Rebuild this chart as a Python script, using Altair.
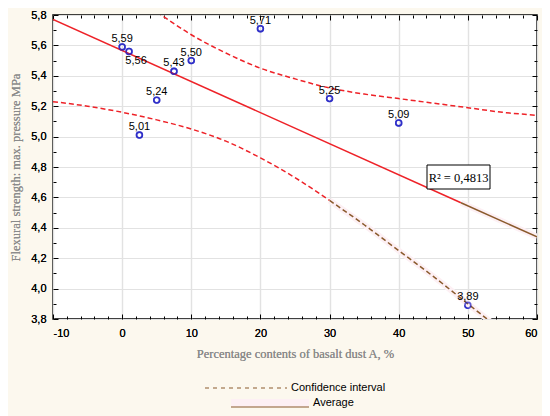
import altair as alt
import pandas as pd

# ---- data ----
pct = [0, 1, 2.5, 5, 7.5, 10, 20, 30, 40, 50]
strength = [5.59, 5.56, 5.01, 5.24, 5.43, 5.50, 5.71, 5.25, 5.09, 3.89]

ci_x = [-10, -5, 0, 5, 10, 15, 20, 25, 30, 35, 40, 45, 50, 55, 60]
ci_upper = [6.31, 6.14, 5.97, 5.82, 5.67, 5.55, 5.45, 5.38, 5.32, 5.28, 5.25, 5.22, 5.19, 5.16, 5.14]
ci_lower = [5.23, 5.20, 5.16, 5.11, 5.05, 4.97, 4.86, 4.73, 4.58, 4.42, 4.25, 4.08, 3.90, 3.72, 3.54]

x_major = [-10, 0, 10, 20, 30, 40, 50, 60]
x_ticks = [-10, -8, -6, -4, -2, 0, 2, 4, 6, 8, 10, 12, 14, 16, 18, 20, 22, 24, 26, 28, 30,
           32, 34, 36, 38, 40, 42, 44, 46, 48, 50, 52, 54, 56, 58, 60]
y_major = [3.8, 4.0, 4.2, 4.4, 4.6, 4.8, 5.0, 5.2, 5.4, 5.6, 5.8]
y_ticks = [3.8, 3.9, 4.0, 4.1, 4.2, 4.3, 4.4, 4.5, 4.6, 4.7, 4.8, 4.9, 5.0, 5.1, 5.2,
           5.3, 5.4, 5.5, 5.6, 5.7, 5.8]

R2_TEXT = "R² = 0,4813"
X_TITLE = "Percentage contents of basalt dust A, %"
Y_TITLE = "Flexural strength: max. pressure MPa"
LEG_CI = "Confidence interval"
LEG_AVG = "Average"

# ---- styling ----
W, H = 484, 304
RED = "#ee2228"
BROWN = "#8a5a2c"
BLUE = "#1c1cc4"
PINK = "#fdf0f4"
SANS = "Liberation Sans"
SERIF = "Liberation Serif"

xs = alt.Scale(domain=[-10, 60], nice=False, zero=False)
ys = alt.Scale(domain=[3.8, 5.8], nice=False, zero=False)

pts = pd.DataFrame({"pct": pct, "strength": strength})
ci = pd.DataFrame({"pct": ci_x, "upper": ci_upper, "lower": ci_lower})
one = pd.DataFrame({"a": [0]})

x_label_expr = "datum.value < 0 ? '-' + abs(datum.value) : '' + datum.value"
y_label_expr = "replace(format(datum.value, '.1f'), '.', ',')"

ax_x_main = alt.Axis(
    orient="bottom", values=x_major, labelExpr=x_label_expr, grid=True,
    gridColor="#e2e2e2", gridWidth=1.2, ticks=False, tickSize=0, domain=False,
    labelFont=SANS, labelFontSize=11, labelColor="black", labelPadding=8,
    title=X_TITLE, titleFont=SERIF, titleFontSize=12.5, titleFontWeight="normal",
    titleColor="#8a8a8a", titlePadding=9,
)
ax_y_main = alt.Axis(
    orient="left", values=y_major, labelExpr=y_label_expr, grid=True,
    gridColor="#e2e2e2", gridWidth=1.2, ticks=False, tickSize=0, domain=False,
    labelFont=SANS, labelFontSize=11, labelColor="black", labelPadding=7,
    title=Y_TITLE, titleFont=SERIF, titleFontSize=12.5, titleFontWeight="normal",
    titleColor="#8a8a8a", titlePadding=8,
)

x_tick_size = {"condition": {"test": "datum.value % 10 == 0", "value": 5}, "value": 3}
y_tick_size = {"condition": {"test": "round(datum.value * 10) % 2 == 0", "value": 5}, "value": 3}


def tick_axis(orient, values, offset, size):
    return alt.Axis(orient=orient, values=values, offset=offset, labels=False,
                    domain=False, grid=False, ticks=True, tickSize=size,
                    tickColor="black", tickWidth=1, title=None)


# confidence interval: upper (red dashed) -- carries top/right inward ticks
ci_upper_line = alt.Chart(ci).mark_line(
    color=RED, strokeDash=[5, 3], strokeWidth=1.5, clip=True, interpolate="monotone"
).encode(
    x=alt.X("pct:Q", scale=xs, axis=tick_axis("bottom", x_ticks, -H, x_tick_size)),
    y=alt.Y("upper:Q", scale=ys, axis=tick_axis("left", y_ticks, -W, y_tick_size)),
)

# confidence interval lower: red part then brown part -- carries bottom/left inward ticks
ci_lower_red = alt.Chart(ci).transform_filter("datum.pct <= 30").mark_line(
    color=RED, strokeDash=[5, 3], strokeWidth=1.5, clip=True, interpolate="monotone"
).encode(
    x=alt.X("pct:Q", scale=xs, axis=tick_axis("top", x_ticks, -H, x_tick_size)),
    y=alt.Y("lower:Q", scale=ys, axis=tick_axis("right", y_ticks, -W, y_tick_size)),
)
ci_lower_pink = alt.Chart(ci).transform_filter("datum.pct >= 30").mark_line(
    color=PINK, strokeWidth=6, clip=True, interpolate="monotone"
).encode(
    x=alt.X("pct:Q", scale=xs, axis=None),
    y=alt.Y("lower:Q", scale=ys, axis=None),
)
ci_lower_brown = alt.Chart(ci).transform_filter("datum.pct >= 30").mark_line(
    color=BROWN, strokeDash=[5, 3], strokeWidth=1.5, clip=True, interpolate="monotone"
).encode(
    x=alt.X("pct:Q", scale=xs, axis=None),
    y=alt.Y("lower:Q", scale=ys, axis=None),
)

# regression line (least squares through the points)
reg_red = alt.Chart(pts).transform_regression(
    "pct", "strength", extent=[-10, 49]
).mark_line(color=RED, strokeWidth=1.5, clip=True).encode(
    x=alt.X("pct:Q", scale=xs, axis=None),
    y=alt.Y("strength:Q", scale=ys, axis=None),
)
reg_pink = alt.Chart(pts).transform_regression(
    "pct", "strength", extent=[49, 60]
).mark_line(color=PINK, strokeWidth=6, clip=True).encode(
    x=alt.X("pct:Q", scale=xs, axis=None),
    y=alt.Y("strength:Q", scale=ys, axis=None),
)
reg_brown = alt.Chart(pts).transform_regression(
    "pct", "strength", extent=[49, 60]
).mark_line(color=BROWN, strokeWidth=1.5, clip=True).encode(
    x=alt.X("pct:Q", scale=xs, axis=None),
    y=alt.Y("strength:Q", scale=ys, axis=None),
)

# points -- carries the main labelled axes and grid
points = alt.Chart(pts).mark_point(
    shape="circle", filled=False, color=BLUE, size=34, strokeWidth=1.6
).encode(
    x=alt.X("pct:Q", scale=xs, axis=ax_x_main),
    y=alt.Y("strength:Q", scale=ys, axis=ax_y_main),
)

lab = alt.Chart(pts).transform_calculate(
    lbl="replace(format(datum.strength, '.2f'), '.', ',')"
)
labels_above = lab.transform_filter("datum.strength != 5.56").mark_text(
    dy=-8, font=SANS, fontSize=11, color="black"
).encode(
    x=alt.X("pct:Q", scale=xs, axis=None),
    y=alt.Y("strength:Q", scale=ys, axis=None),
    text="lbl:N",
)
labels_below = lab.transform_filter("datum.strength == 5.56").mark_text(
    dx=7, dy=10, font=SANS, fontSize=11, color="black"
).encode(
    x=alt.X("pct:Q", scale=xs, axis=None),
    y=alt.Y("strength:Q", scale=ys, axis=None),
    text="lbl:N",
)

# R² box
r2_box = alt.Chart(one).mark_rect(fill="white", stroke="black", strokeWidth=1).encode(
    x=alt.value(374), x2=alt.value(437), y=alt.value(150), y2=alt.value(174)
)
r2_text = alt.Chart(one).mark_text(
    text=R2_TEXT, font=SERIF, fontSize=12.5, color="black", align="center", baseline="middle"
).encode(x=alt.value(405.5), y=alt.value(162.5))

# custom legend below the plot
leg_ci_line = alt.Chart(one).mark_rule(color=BROWN, strokeDash=[4, 4], strokeWidth=1).encode(
    x=alt.value(152), x2=alt.value(234), y=alt.value(373)
)
leg_ci_text = alt.Chart(one).mark_text(
    text=LEG_CI, font=SANS, fontSize=11, color="black", align="left", baseline="middle"
).encode(x=alt.value(238), y=alt.value(373))
leg_avg_bg = alt.Chart(one).mark_rect(color=PINK).encode(
    x=alt.value(178), x2=alt.value(256), y=alt.value(384), y2=alt.value(392)
)
leg_avg_line = alt.Chart(one).mark_rule(color=BROWN, strokeWidth=1.2).encode(
    x=alt.value(178), x2=alt.value(256), y=alt.value(392)
)
leg_avg_text = alt.Chart(one).mark_text(
    text=LEG_AVG, font=SANS, fontSize=11, color="black", align="left", baseline="middle"
).encode(x=alt.value(260), y=alt.value(388))

chart = alt.layer(
    points,
    ci_upper_line, ci_lower_red, ci_lower_pink, ci_lower_brown,
    reg_red, reg_pink, reg_brown,
    points,
    labels_above, labels_below,
    r2_box, r2_text,
    leg_ci_line, leg_ci_text, leg_avg_bg, leg_avg_line, leg_avg_text,
).resolve_axis(x="independent", y="independent").properties(
    width=W, height=H,
    autosize=alt.AutoSizeParams(type="none"),
    padding={"left": 45, "top": 7, "right": 5, "bottom": 97},
    background="#fcf8ee",
).configure_view(fill="white", stroke="black", strokeWidth=1.5)

chart.save("out.html", embed_options={"renderer": "svg", "actions": False})
